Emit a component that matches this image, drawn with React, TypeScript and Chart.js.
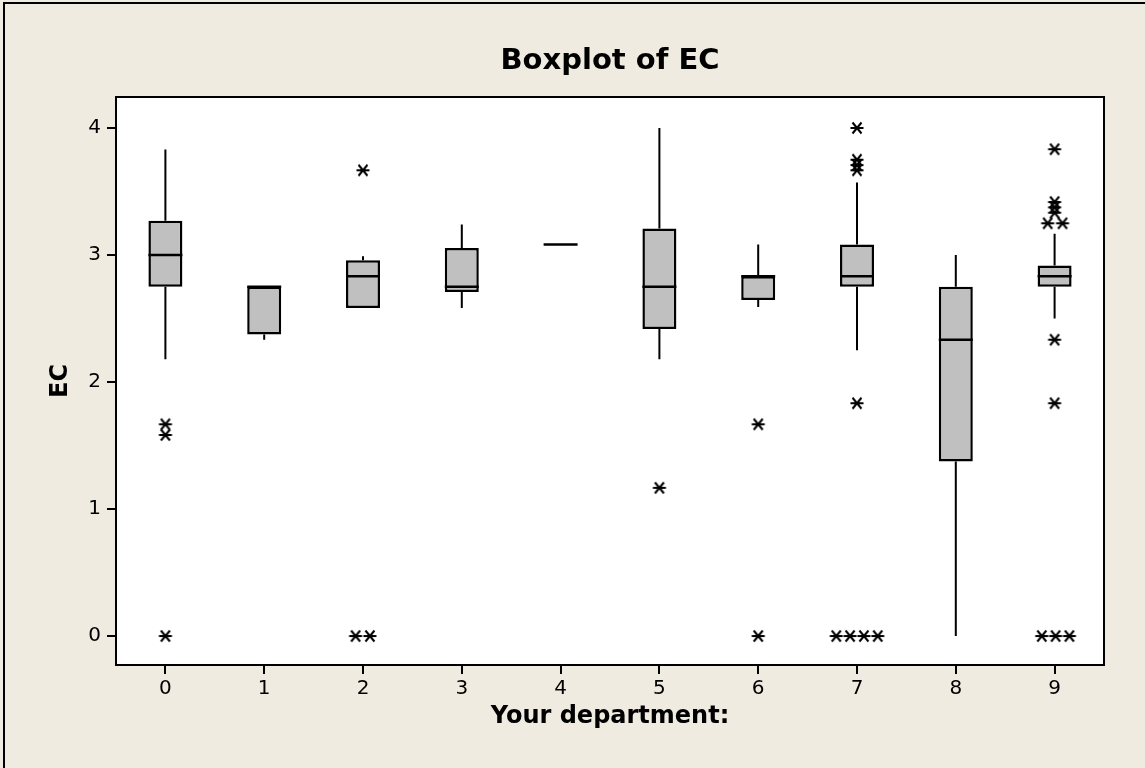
import React, { useEffect, useRef } from 'react';
import { Chart, registerables } from 'chart.js';

Chart.register(...registerables);

// ---- data ----
const departments = [0, 1, 2, 3, 4, 5, 6, 7, 8, 9];
const q1Values = [2.75, 2.375, 2.583, 2.708, 3.083, 2.417, 2.646, 2.75, 1.375, 2.75];
const medianValues = [3.0, 2.75, 2.833, 2.75, 3.083, 2.75, 2.833, 2.833, 2.333, 2.833];
const q3Values = [3.27, 2.75, 2.958, 3.056, 3.083, 3.208, 2.833, 3.083, 2.75, 2.917];
const whiskerHigh = [3.83, 2.75, 2.99, 3.24, 3.083, 4.0, 3.083, 3.57, 3.0, 3.167];
const whiskerLow = [2.18, 2.333, 2.583, 2.583, 3.083, 2.18, 2.59, 2.25, 0, 2.5];

const outlierDept = [0, 0, 0, 2, 2, 2, 5, 6, 6, 7, 7, 7, 7, 7, 7, 7, 7, 7, 9, 9, 9, 9, 9, 9, 9, 9, 9, 9, 9];
const outlierValues = [1.667, 1.583, 0, 3.667, 0, 0, 1.167, 1.667, 0, 4.0, 3.75, 3.708, 3.667, 1.833, 0, 0, 0, 0, 3.833, 3.417, 3.375, 3.333, 3.25, 3.25, 2.333, 1.833, 0, 0, 0];
const outlierJitter = [0, 0, 0, 0, -0.075, 0.07, 0, 0, 0, 0, 0, 0, 0, 0, -0.21, -0.07, 0.07, 0.21, 0, 0, 0, 0, -0.07, 0.08, 0, 0, -0.13, 0.01, 0.15];

const yTickValues = [0, 1, 2, 3, 4];

const BOX_HALF = 0.172;
const FONT = "'DejaVu Sans', Verdana, sans-serif";

function makeAsterisk(): HTMLCanvasElement {
  const c = document.createElement('canvas');
  c.width = 16;
  c.height = 14;
  const g = c.getContext('2d') as CanvasRenderingContext2D;
  g.strokeStyle = '#000';
  g.lineWidth = 2;
  g.beginPath();
  g.moveTo(1.5, 7);
  g.lineTo(14.5, 7);
  g.moveTo(3.5, 1.5);
  g.lineTo(12.5, 12.5);
  g.moveTo(12.5, 1.5);
  g.lineTo(3.5, 12.5);
  g.stroke();
  return c;
}

const framePlugin = {
  id: 'plotFrame',
  beforeDraw(chart: any) {
    const { ctx, chartArea: a } = chart;
    ctx.save();
    ctx.fillStyle = '#ffffff';
    ctx.fillRect(a.left, a.top, a.right - a.left, a.bottom - a.top);
    ctx.restore();
  },
  afterDraw(chart: any) {
    const { ctx, chartArea: a } = chart;
    ctx.save();
    ctx.strokeStyle = '#000';
    ctx.lineWidth = 2;
    ctx.strokeRect(a.left, a.top, a.right - a.left, a.bottom - a.top);
    ctx.restore();
  },
};

export default function App() {
  const canvasRef = useRef<HTMLCanvasElement | null>(null);

  useEffect(() => {
    document.body.style.margin = '0';
    const canvas = canvasRef.current;
    if (!canvas) return;

    const boxData = departments.map((d, i) => ({ x: d, y: [q1Values[i], q3Values[i]] }));
    const whiskerData: any[] = [];
    departments.forEach((d, i) => {
      whiskerData.push({ x: d, y: q3Values[i] }, { x: d, y: whiskerHigh[i] }, { x: d, y: null });
      whiskerData.push({ x: d, y: whiskerLow[i] }, { x: d, y: q1Values[i] }, { x: d, y: null });
    });
    const medianData: any[] = [];
    departments.forEach((d, i) => {
      medianData.push({ x: d - BOX_HALF, y: medianValues[i] }, { x: d + BOX_HALF, y: medianValues[i] }, { x: d, y: null });
    });
    const outlierData = outlierValues.map((v, i) => ({ x: outlierDept[i] + outlierJitter[i], y: v }));
    const star = makeAsterisk();

    const chart = new Chart(canvas, {
      type: 'bar',
      data: {
        datasets: [
          {
            type: 'line',
            data: whiskerData,
            borderColor: '#000',
            borderWidth: 2,
            pointRadius: 0,
            spanGaps: false,
            fill: false,
            order: 3,
          } as any,
          {
            type: 'bar',
            data: boxData,
            backgroundColor: '#c0c0c0',
            borderColor: '#000',
            borderWidth: 2.5,
            borderSkipped: false,
            barPercentage: BOX_HALF * 2,
            categoryPercentage: 1,
            order: 2,
          } as any,
          {
            type: 'line',
            data: medianData,
            borderColor: '#000',
            borderWidth: 2.5,
            pointRadius: 0,
            spanGaps: false,
            fill: false,
            order: 1,
          } as any,
          {
            type: 'line',
            data: outlierData,
            showLine: false,
            pointStyle: star,
            pointRadius: 7,
            order: 0,
          } as any,
        ],
      },
      options: {
        animation: false,
        responsive: false,
        layout: { padding: { left: 0, right: 41, top: 0, bottom: 0 } },
        plugins: {
          legend: { display: false },
          tooltip: { enabled: false },
          title: {
            display: true,
            text: 'Boxplot of EC',
            fullSize: false,
            color: '#000',
            font: { family: FONT, size: 29, weight: 'bold', lineHeight: 1.2 },
            padding: { top: 44, bottom: 18.2 },
          },
        },
        scales: {
          x: {
            type: 'linear',
            min: -0.5,
            max: 9.5,
            offset: false,
            afterBuildTicks: (scale: any) => {
              scale.ticks = departments.map((v) => ({ value: v }));
            },
            afterFit: (scale: any) => {
              scale.height = 103;
            },
            ticks: { color: '#000', font: { family: FONT, size: 20 }, padding: 3 },
            grid: { offset: false, drawOnChartArea: false, drawTicks: true, tickLength: 9, color: '#000', lineWidth: 2 },
            border: { display: true, color: '#000', width: 2 },
            title: {
              display: true,
              text: 'Your department:',
              color: '#000',
              font: { family: FONT, size: 24, weight: 'bold', lineHeight: 1.2 },
              padding: { top: 0, bottom: 37 },
            },
          },
          y: {
            type: 'linear',
            min: -0.228,
            max: 4.244,
            afterBuildTicks: (scale: any) => {
              scale.ticks = yTickValues.map((v) => ({ value: v }));
            },
            afterFit: (scale: any) => {
              scale.width = 116;
            },
            ticks: { color: '#000', font: { family: FONT, size: 20 }, padding: 6 },
            grid: { drawOnChartArea: false, drawTicks: true, tickLength: 9, color: '#000', lineWidth: 2 },
            border: { display: true, color: '#000', width: 2 },
            title: {
              display: true,
              text: 'EC',
              color: '#000',
              font: { family: FONT, size: 24, weight: 'bold', lineHeight: 1.2 },
              padding: { top: 46, bottom: 0 },
            },
          },
        },
      } as any,
      plugins: [framePlugin],
    });

    return () => {
      chart.destroy();
    };
  }, []);

  return (
    <div style={{ position: 'relative', width: 1145, height: 768, background: '#f0ebe1', overflow: 'hidden' }}>
      <div
        style={{
          position: 'absolute',
          left: 3,
          top: 2,
          width: 1160,
          height: 780,
          border: '2px solid #000',
          boxSizing: 'border-box',
        }}
      />
      <canvas ref={canvasRef} width={1145} height={768} style={{ position: 'absolute', left: 0, top: 0 }} />
    </div>
  );
}
